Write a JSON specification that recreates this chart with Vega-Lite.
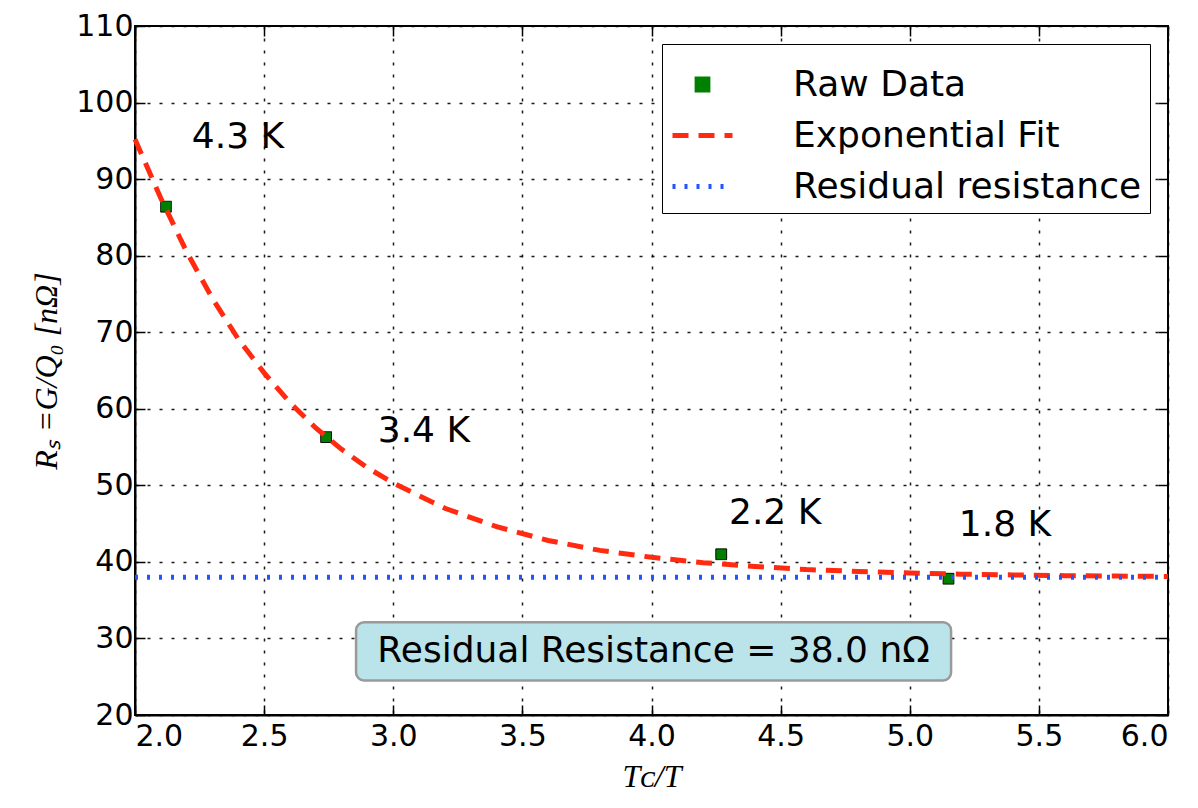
{
  "$schema": "https://vega.github.io/schema/vega-lite/v6.json",
  "width": 1033,
  "height": 689,
  "autosize": "none",
  "padding": {"left": 135, "top": 26, "right": 30, "bottom": 93},
  "background": "white",
  "config": {
    "font": "DejaVu Sans",
    "view": {"stroke": "black", "strokeWidth": 2},
    "axis": {
      "domainColor": "black",
      "domainWidth": 2,
      "tickColor": "black",
      "tickWidth": 1.5,
      "tickSize": -10,
      "labelFontSize": 30,
      "labelColor": "black",
      "labelFont": "DejaVu Sans",
      "gridColor": "black",
      "gridDash": [3, 9],
      "gridWidth": 1.5,
      "gridOpacity": 0.9,
      "titleColor": "black"
    },
    "legend": {
      "orient": "top-right", "offset": 18,
      "labelFontSize": 36, "labelFont": "DejaVu Sans", "labelColor": "black", "labelLimit": 0,
      "strokeColor": "black", "fillColor": "white", "padding": 8, "rowPadding": -2,
      "labelOffset": 58, "cornerRadius": 0, "symbolOpacity": 1, "gridAlign": "all",
      "symbolSize": 3600, "symbolStrokeWidth": 5
    }
  },
  "datasets": {
    "points": [
      {"x": 2.12, "y": 86.4, "series": "Raw Data"},
      {"x": 2.74, "y": 56.3, "series": "Raw Data"},
      {"x": 4.27, "y": 41.0, "series": "Raw Data"},
      {"x": 5.15, "y": 37.8, "series": "Raw Data"}
    ],
    "fit": [
      {"x": 2.0, "y": 95.2, "series": "Exponential Fit"},
      {"x": 2.1, "y": 87.5, "series": "Exponential Fit"},
      {"x": 2.2, "y": 80.5, "series": "Exponential Fit"},
      {"x": 2.3, "y": 74.4, "series": "Exponential Fit"},
      {"x": 2.4, "y": 69.1, "series": "Exponential Fit"},
      {"x": 2.5, "y": 64.7, "series": "Exponential Fit"},
      {"x": 2.6, "y": 60.8, "series": "Exponential Fit"},
      {"x": 2.7, "y": 57.5, "series": "Exponential Fit"},
      {"x": 2.8, "y": 54.7, "series": "Exponential Fit"},
      {"x": 2.9, "y": 52.3, "series": "Exponential Fit"},
      {"x": 3.0, "y": 50.3, "series": "Exponential Fit"},
      {"x": 3.2, "y": 47.0, "series": "Exponential Fit"},
      {"x": 3.4, "y": 44.6, "series": "Exponential Fit"},
      {"x": 3.6, "y": 42.8, "series": "Exponential Fit"},
      {"x": 3.8, "y": 41.5, "series": "Exponential Fit"},
      {"x": 4.0, "y": 40.6, "series": "Exponential Fit"},
      {"x": 4.2, "y": 39.9, "series": "Exponential Fit"},
      {"x": 4.4, "y": 39.4, "series": "Exponential Fit"},
      {"x": 4.6, "y": 39.0, "series": "Exponential Fit"},
      {"x": 4.8, "y": 38.75, "series": "Exponential Fit"},
      {"x": 5.0, "y": 38.55, "series": "Exponential Fit"},
      {"x": 5.2, "y": 38.4, "series": "Exponential Fit"},
      {"x": 5.4, "y": 38.3, "series": "Exponential Fit"},
      {"x": 5.6, "y": 38.2, "series": "Exponential Fit"},
      {"x": 5.8, "y": 38.15, "series": "Exponential Fit"},
      {"x": 6.0, "y": 38.1, "series": "Exponential Fit"}
    ],
    "residual": [
      {"x": 2.0, "y": 38.0, "series": "Residual resistance"},
      {"x": 6.0, "y": 38.0, "series": "Residual resistance"}
    ],
    "labels": [
      {"x": 2.22, "y": 95.5, "text": "4.3 K"},
      {"x": 2.94, "y": 57.1, "text": "3.4 K"},
      {"x": 4.30, "y": 46.4, "text": "2.2 K"},
      {"x": 5.19, "y": 44.8, "text": "1.8 K"}
    ],
    "box": [
      {"x": 2.856, "x2": 5.16, "y": 32.1, "y2": 24.5, "xc": 4.008, "yc": 28.3, "text": "Residual Resistance = 38.0 nΩ"}
    ]
  },
  "resolve": {"axis": {"x": "independent", "y": "independent"}},
  "layer": [
    {
      "data": {"name": "points"},
      "mark": {"type": "point", "filled": true, "opacity": 1, "stroke": "black", "strokeWidth": 1, "size": 3600},
      "encoding": {
        "x": {"field": "x", "type": "quantitative",
          "scale": {"domain": [2, 6], "nice": false, "zero": false},
          "axis": {"values": [2, 2.5, 3, 3.5, 4, 4.5, 5, 5.5, 6], "format": ".1f", "grid": true, "labelPadding": 16,
            "title": "Tᴄ/T", "titleFont": "Liberation Serif", "titleFontStyle": "italic", "titleFontWeight": "normal", "titleFontSize": 32, "titlePadding": 10}},
        "y": {"field": "y", "type": "quantitative",
          "scale": {"domain": [20, 110], "nice": false, "zero": false},
          "axis": {"values": [20, 30, 40, 50, 60, 70, 80, 90, 100, 110], "grid": true, "labelPadding": 12,
            "title": "Rₛ =G/Q₀ [nΩ]", "titleFont": "Liberation Serif", "titleFontStyle": "italic", "titleFontWeight": "normal", "titleFontSize": 32, "titlePadding": 12}},
        "color": {"field": "series", "type": "nominal",
          "scale": {"domain": ["Raw Data", "Exponential Fit", "Residual resistance"], "range": ["#008000", "#ff2a10", "#2255ff"]},
          "legend": {"title": null}},
        "shape": {"field": "series", "type": "nominal",
          "scale": {"domain": ["Raw Data", "Exponential Fit", "Residual resistance"], "range": ["M-0.18,-0.18H0.18V0.18H-0.18Z", "stroke", "stroke"]},
          "legend": {"title": null}},
        "strokeDash": {"field": "series", "type": "nominal",
          "scale": {"domain": ["Raw Data", "Exponential Fit", "Residual resistance"], "range": [[1, 0], [16, 10], [3, 9]]},
          "legend": {"title": null}}
      }
    },
    {
      "data": {"name": "fit"},
      "mark": {"type": "line", "strokeWidth": 5},
      "encoding": {
        "x": {"field": "x", "type": "quantitative",
          "axis": {"orient": "top", "labels": false, "title": null, "grid": false, "domain": false, "values": [2, 2.5, 3, 3.5, 4, 4.5, 5, 5.5, 6]}},
        "y": {"field": "y", "type": "quantitative",
          "axis": {"orient": "right", "labels": false, "title": null, "grid": false, "domain": false, "values": [20, 30, 40, 50, 60, 70, 80, 90, 100, 110]}},
        "color": {"field": "series", "type": "nominal", "legend": {"title": null}},
        "strokeDash": {"field": "series", "type": "nominal", "legend": {"title": null}}
      }
    },
    {
      "data": {"name": "residual"},
      "mark": {"type": "line", "strokeWidth": 5},
      "encoding": {
        "x": {"field": "x", "type": "quantitative", "axis": null},
        "y": {"field": "y", "type": "quantitative", "axis": null},
        "color": {"field": "series", "type": "nominal", "legend": {"title": null}},
        "strokeDash": {"field": "series", "type": "nominal", "legend": {"title": null}}
      }
    },
    {
      "data": {"name": "labels"},
      "mark": {"type": "text", "align": "left", "baseline": "middle", "fontSize": 36, "font": "DejaVu Sans", "color": "black"},
      "encoding": {
        "x": {"field": "x", "type": "quantitative", "axis": null},
        "y": {"field": "y", "type": "quantitative", "axis": null},
        "text": {"field": "text"}
      }
    },
    {
      "data": {"name": "box"},
      "mark": {"type": "rect", "fill": "#bae3ea", "stroke": "#9a9a9a", "strokeWidth": 2.5, "cornerRadius": 8},
      "encoding": {
        "x": {"field": "x", "type": "quantitative", "axis": null},
        "x2": {"field": "x2"},
        "y": {"field": "y", "type": "quantitative", "axis": null},
        "y2": {"field": "y2"}
      }
    },
    {
      "data": {"name": "box"},
      "mark": {"type": "text", "align": "center", "baseline": "middle", "fontSize": 36, "font": "DejaVu Sans", "color": "black"},
      "encoding": {
        "x": {"field": "xc", "type": "quantitative", "axis": null},
        "y": {"field": "yc", "type": "quantitative", "axis": null},
        "text": {"field": "text"}
      }
    }
  ]
}
